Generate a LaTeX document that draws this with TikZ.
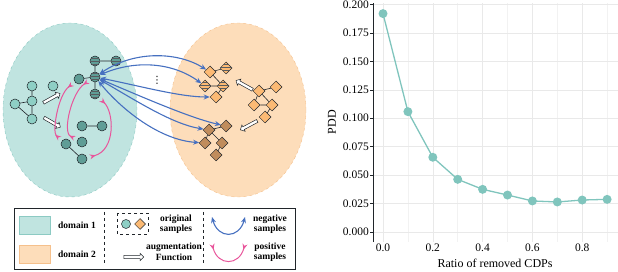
\documentclass[tikz,border=0pt]{standalone}
\usepackage{fontspec}
\setmainfont{Liberation Serif}
\newfontfamily\symfont{DejaVu Sans}
\usetikzlibrary{shapes.geometric,shapes.arrows,patterns,arrows.meta}

\definecolor{abink}{HTML}{20252A}
\definecolor{tealfill}{HTML}{C0E4E0}
\definecolor{tealedge}{HTML}{8CCAC3}
\definecolor{tealnode}{HTML}{8ECFC5}
\definecolor{tealdark}{HTML}{5F9D96}
\definecolor{orangefill}{HTML}{FDDDBA}
\definecolor{orangeedge}{HTML}{F5C08C}
\definecolor{orangenode}{HTML}{FCBA74}
\definecolor{brownnode}{HTML}{C08C5C}
\definecolor{negblue}{HTML}{4670C0}
\definecolor{pospink}{HTML}{E8559B}
\definecolor{plotteal}{HTML}{80C5BD}
\definecolor{gridgray}{HTML}{E9E9E9}

\begin{document}
\begin{tikzpicture}[
  x=1pt,y=-1pt,
  font=\bfseries\fontsize{9.5}{10.5}\selectfont,
  tnode/.style={circle,draw=abink,line width=.5pt,fill=tealnode,minimum size=10pt,inner sep=0pt},
  tdark/.style={tnode,fill=tealdark},
  onode/.style={diamond,draw=abink,line width=.5pt,fill=orangenode,minimum size=12pt,inner sep=0pt},
  obrown/.style={onode,fill=brownnode},
  striped/.style={postaction={pattern=horizontal lines,pattern color=abink!75}},
  edge/.style={draw=abink,line width=.6pt},
  negarr/.style={draw=negblue,line width=1.1pt,{Stealth[length=6pt,width=5pt]}-{Stealth[length=6pt,width=5pt]}},
  posarr/.style={draw=pospink,line width=1pt,shorten <=3pt,shorten >=3pt,
    {Stealth[length=6pt,width=5pt,reversed]}-{Stealth[length=6pt,width=5pt,reversed]}},
  augarrow/.style={single arrow,draw=abink,fill=white,line width=.5pt,minimum height=19pt,
    single arrow head extend=2pt,inner sep=1.3pt},
  tick/.style={font=\fontsize{11.5}{12}\selectfont},
  axtitle/.style={font=\fontsize{12}{13}\selectfont},
  legtext/.style={align=center}
]
  \path[use as bounding box] (0,0) rectangle (618,272);
  % domains
  \node[ellipse,draw=tealedge,dashed,fill=tealfill,minimum width=134pt,minimum height=174pt] (dom1) at (70,110) {};
  \node[ellipse,draw=orangeedge,dashed,fill=orangefill,minimum width=136pt,minimum height=174pt] (dom2) at (238,110) {};
  % original teal sample
  \node[tnode] (a1) at (32,86) {};
  \node[tnode] (a2) at (53,86) {};
  \node[tnode] (a3) at (15,104) {};
  \node[tnode] (a4) at (32,101) {};
  \node[tnode] (a5) at (32,119) {};
  \draw[edge] (a1)--(a4) (a3)--(a4) (a4)--(a5) (a3)--(a5);
  \node[augarrow,rotate=29] (ta1) at (51,98.5) {};
  \node[augarrow,rotate=-30] (ta2) at (51.5,122) {};
  % augmented teal samples
  \node[tdark,striped] (c1) at (95,61) {};
  \node[tdark,striped] (c5) at (116,61) {};
  \node[tdark,striped] (c2) at (95,77) {};
  \node[tdark] (c4) at (79,79) {};
  \node[tdark,striped] (c3) at (95,94) {};
  \draw[edge] (c1)--(c5) (c1)--(c2) (c4)--(c2) (c2)--(c3);
  \node[tdark] (l1) at (82,126) {};
  \node[tdark] (l2) at (102,126) {};
  \node[tdark] (l3) at (82,142) {};
  \node[tdark] (l4) at (66,144) {};
  \node[tdark] (l5) at (82,159) {};
  \draw[edge] (l1)--(l2) (l4)--(l5);
  % original orange sample
  \node[onode] (r1) at (259,91) {};
  \node[onode] (r2) at (276,87) {};
  \node[onode] (r3) at (254,105) {};
  \node[onode] (r4) at (272,105) {};
  \node[onode] (r5) at (265,117) {};
  \draw[edge] (r1)--(r2) (r1)--(r3) (r1)--(r4) (r3)--(r4) (r4)--(r5);
  \node[augarrow,rotate=151] (oa1) at (245,85.5) {};
  \node[augarrow,rotate=208] (oa2) at (249.5,125) {};
  % augmented orange samples
  \node[onode] (u1) at (210,72) {};
  \node[onode,striped] (u2) at (226,68) {};
  \node[onode,striped] (u3) at (205,86) {};
  \node[onode,striped] (u4) at (223,86) {};
  \node[onode] (u5) at (216,97) {};
  \draw[edge] (u1)--(u2) (u1)--(u4) (u3)--(u4) (u4)--(u5);
  \node[obrown] (p1) at (209,130) {};
  \node[obrown] (p2) at (226,126) {};
  \node[obrown] (p3) at (205,143) {};
  \node[obrown] (p4) at (222,143) {};
  \node[obrown] (p5) at (216,155) {};
  \draw[edge] (p1)--(p2) (p1)--(p3) (p1)--(p4) (p4)--(p5);
  % positive pairs
  \draw[posarr] (c4) .. controls (58,95) and (52,132) .. (l4);
  \draw[posarr] (c2) .. controls (72,92) and (62,132) .. (l3);
  \draw[posarr] (c3) .. controls (114,112) and (116,150) .. (l5);
  % negative pairs
  \draw[negarr] (c2) .. controls (135,50) and (178,52) .. (u1);
  \draw[negarr] (c2) .. controls (135,60) and (172,62) .. (u3);
  \draw[negarr] (c2) .. controls (140,86) and (180,97) .. (u5);
  \draw[negarr] (c2) .. controls (140,96) and (190,118) .. (p2);
  \draw[negarr] (c2) .. controls (135,100) and (172,124) .. (p1);
  \draw[negarr] (c2) .. controls (122,110) and (160,140) .. (p3);
  \node[font=\symfont\fontsize{10}{10}\selectfont,inner sep=0pt] (dots) at (157,80) {⋮};
  % legend
  \draw[abink,line width=.8pt] (14,208) rectangle (295,269);
  \draw[tealedge,fill=tealfill] (19,216) rectangle (50,234);
  \draw[orangeedge,fill=orangefill] (19,245) rectangle (50,263);
  \node (lgd1) at (77,225) {domain 1};
  \node (lgd2) at (77,254) {domain 2};
  \draw[abink,dashed,line width=.6pt] (104,212)--(104,265);
  \draw[abink,dashed,line width=.6pt] (203,212)--(203,265);
  \draw[abink,dashed,line width=.6pt] (117,213) rectangle (148,234);
  \node[tnode,minimum size=9pt] (lgc) at (126,224) {};
  \node[onode,minimum size=11pt] (lgo) at (140,224) {};
  \node[legtext] (lgorig) at (176,224) {original\\samples};
  \node[augarrow,minimum height=20pt] (lgaug) at (133,257) {};
  \node[legtext] (lgfun) at (174,252) {augmentation\\Function};
  \coordinate (nl) at (212,217);
  \coordinate (nr) at (245,217);
  \draw[negarr] (nl) .. controls (218,239) and (239,239) .. (nr);
  \coordinate (pl) at (212,244);
  \coordinate (pr) at (245,244);
  \draw[draw=pospink,line width=1pt,{Stealth[length=6pt,width=5pt,reversed]}-{Stealth[length=6pt,width=5pt,reversed]}]
    (pl) .. controls (218,266) and (239,266) .. (pr);
  \node[legtext] (lgneg) at (270,224) {negative\\samples};
  \node[legtext] (lgpos) at (270,252) {positive\\samples};
  % plot
  \begin{scope}[shift={(383,232)},x=249pt,y=1137.5pt]
    \foreach \r in {0,0.2,...,0.9}
      \draw[gridgray,line width=.6pt] (\r,-0.0088)--(\r,0.2013);
    \foreach \r in {0.1,0.3,...,0.9}
      \draw[gridgray!60,line width=.5pt] (\r,-0.0088)--(\r,0.2013);
    \foreach \v in {0,0.025,...,0.2}
      \draw[gridgray,line width=.6pt] (-0.04,\v)--(0.945,\v);
    \draw[abink,line width=.7pt] (-0.04,-0.0088)--(-0.04,0.2013);
    \foreach \v/\lab in {0/0.000,0.025/0.025,0.05/0.050,0.075/0.075,0.1/0.100,
                         0.125/0.125,0.15/0.150,0.175/0.175,0.2/0.200}{
      \draw[abink,line width=.5pt] (-0.052,\v)--(-0.04,\v);
      \node[tick,anchor=east,inner sep=1pt] at (-0.052,\v) {\lab};
    }
    \foreach \r/\lab in {0/0.0,0.2/0.2,0.4/0.4,0.6/0.6,0.8/0.8}
      \node[tick] at (\r,-0.0138) {\lab};
    \draw[plotteal,line width=1.3pt] plot coordinates {(0,0.192) (0.1,0.1058) (0.2,0.0657)
      (0.3,0.0463) (0.4,0.0375) (0.5,0.0325) (0.6,0.0273) (0.7,0.0264) (0.8,0.0281) (0.9,0.0287)};
    \foreach \r/\v in {0/0.192,0.1/0.1058,0.2/0.0657,0.3/0.0463,0.4/0.0375,
                       0.5/0.0325,0.6/0.0273,0.7/0.0264,0.8/0.0281,0.9/0.0287}
      \fill[plotteal] (\r,\v) circle[radius=4.5pt];
  \end{scope}
  \node[axtitle] (xtitle) at (495,263) {Ratio of removed CDPs};
  \node[axtitle,rotate=90] (ytitle) at (332,122) {PDD};
\end{tikzpicture}
\end{document}
